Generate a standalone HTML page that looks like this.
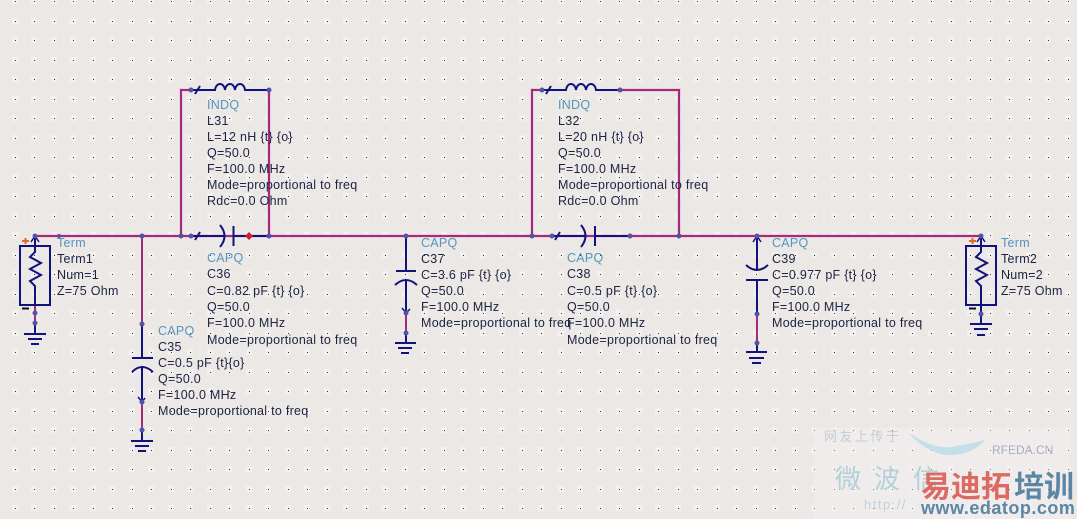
<!DOCTYPE html>
<html><head><meta charset="utf-8"><style>
html,body{margin:0;padding:0;background:#ebe8e6;width:1077px;height:519px;overflow:hidden}
svg{display:block}
text{font-family:"Liberation Sans","Noto Sans CJK SC",sans-serif;font-size:12.5px;letter-spacing:.28px;fill:#1c2342}
.t{fill:#5596bb}
.p{stroke:#a02c7a;stroke-width:2;fill:none}
.h{stroke:#e8b8d4;stroke-width:4;fill:none;opacity:.55}
.b{stroke:#12127c;stroke-width:2;fill:none}
.n{fill:#5252a6}
</style></head><body>
<svg width="1077" height="519" viewBox="0 0 1077 519" xmlns="http://www.w3.org/2000/svg">
<defs>
<pattern id="d" x="15" y="1" width="39" height="39" patternUnits="userSpaceOnUse">
<g fill="#f3f1f0"><rect x="-3" y="-3" width="6" height="6"/><rect x="36" y="-3" width="3" height="6"/><rect x="-3" y="36" width="6" height="3"/><rect x="36" y="36" width="3" height="3"/><rect x="16" y="-3" width="6" height="6"/><rect x="16" y="36" width="6" height="3"/><rect x="-3" y="17" width="6" height="6"/><rect x="36" y="17" width="3" height="6"/><rect x="16" y="17" width="6" height="6"/></g>
<g fill="#333"><rect x="0" y="0" width="1" height="1"/><rect x="19" y="0" width="1" height="1"/><rect x="0" y="20" width="1" height="1"/><rect x="19" y="20" width="1" height="1"/></g>
</pattern>
</defs>
<rect width="1077" height="519" fill="#ebe8e6"/>
<rect width="1077" height="519" fill="url(#d)"/>

<!-- watermark -->
<rect x="814" y="428" width="256" height="91" fill="#f0eeec" opacity=".75"/>
<rect width="1077" height="519" fill="url(#d)" opacity=".5"/>
<path d="M908 432 C925 445 945 450 955 446 C970 444 978 442 985 440 C975 452 960 456 945 455 C930 452 918 444 908 432Z" fill="#c5dfe9"/>
<text x="824" y="441" style="font-size:13px;fill:#c4ced6;letter-spacing:2.5px">网友上传于</text>
<text x="835" y="488" style="font-size:26px;fill:#b4d0db;letter-spacing:13px">微波信</text>
<text x="992" y="454" style="font-size:12px;fill:#a6adc2;letter-spacing:0">RFEDA.CN</text>
<text x="864" y="509" style="font-size:13px;fill:#bdd2dc;letter-spacing:1.5px">http://</text>
<text x="921" y="497" style="font-size:30px;font-weight:bold;fill:#dc6a63;letter-spacing:0">易迪拓</text>
<text x="1014" y="497" style="font-size:30px;font-weight:bold;fill:#5c86a4;letter-spacing:0">培训</text>
<text x="921" y="514" style="font-size:18px;font-weight:bold;fill:#5c86a4;letter-spacing:.5px">www.edatop.com</text>

<!-- pink wires -->
<path class="h" d="M35 236H981M181 236V90H191M269 90V236M532 236V90H542M620 90H679V236"/>
<path class="p" d="M35 236H981M181 236V90H191M269 90V236M532 236V90H542M620 90H679V236"/>
<path class="p" d="M142 236V324M142 402V430M35 305V323M406 313V333M757 314V343M981 305V314"/>

<!-- Term1 -->
<g class="b">
<rect x="20" y="246" width="30" height="59" stroke-width="2"/>
<path d="M35 236V252L30 257L41 263L30 269L41 275L30 281L35 286V305M35 323V333"/>
<path d="M31 242L35 236L39 242" stroke-width="1.5"/>
<path d="M24 334H46M28 339H42M31 344H39" stroke-width="2"/>
</g>
<path d="M22 241H29M25.500 238V244" stroke="#e06a2a" stroke-width="2"/>
<path d="M22 308.500H29" stroke="#111" stroke-width="2"/>

<!-- Term2 -->
<g class="b">
<rect x="966" y="246" width="30" height="59"/>
<path d="M981 236V252L976 257L987 263L976 269L987 275L976 281L981 286V323"/>
<path d="M977 242L981 236L985 242" stroke-width="1.5"/>
<path d="M970 324H992M974 329H988M977 335H985"/>
</g>
<path d="M969 241H976M972.500 238V244" stroke="#e06a2a" stroke-width="2"/>
<path d="M969 308.500H976" stroke="#111" stroke-width="2"/>

<!-- C35 -->
<g class="b">
<path d="M142 324V358M132 358H153M132 372Q142 362 153 372M142 366V402M142 430V441M131 441H153M135 446H149M138 451H146"/>
<path d="M138 397L142 402L145 398" stroke-width="1.500"/>
</g>
<!-- C37 -->
<g class="b">
<path d="M406 236V271M396 271H416M395 285Q406 275 417 285M406 279V313M406 333V343M395 343H416M398 348H412M401 353H409"/>
<path d="M402 308L406 313L410 309" stroke-width="1.500"/>
</g>
<!-- C39 -->
<g class="b">
<path d="M757 236V270M746 265Q757 275 768 265M746 280H768M757 280V314M757 343V352M746 352H767M749 358H764M752 363H761"/>
<path d="M753 242L757 236L761 242" stroke-width="1.500"/>
</g>
<!-- C36 -->
<g class="b">
<path d="M191 236H225M220 225Q229 236 220 247M233.500 226V246M233.500 236H269"/>
<path d="M195 240L200 232" stroke-width="2"/>
</g>
<path d="M249 232L253 236L249 240L245 236Z" fill="#d0202a"/>
<!-- C38 -->
<g class="b">
<path d="M552 236H586M581 225Q590 236 581 247M595 226V246M595 236H630"/>
<path d="M555 240L560 232"/>
</g>
<!-- L31 -->
<g class="b">
<path d="M191 90H215C216 82 224 82 225 90C226 82 234 82 235 90C236 82 244 82 245 90H269"/>
<path d="M195 94L200 86"/>
</g>
<!-- L32 -->
<g class="b">
<path d="M542 90H566C567 82 575 82 576 90C577 82 585 82 586 90C587 82 595 82 596 90H620"/>
<path d="M546 94L551 86"/>
</g>

<!-- nodes -->
<g class="n">
<circle cx="35" cy="236" r="2.500"/><circle cx="35" cy="313" r="2.500"/><circle cx="35" cy="323" r="2.500"/>
<circle cx="59" cy="236" r="2"/>
<circle cx="142" cy="236" r="2.500"/><circle cx="142" cy="324" r="2.500"/><circle cx="142" cy="402" r="2.500"/><circle cx="142" cy="430" r="2.500"/>
<circle cx="181" cy="236" r="2.500"/><circle cx="191" cy="236" r="2.500"/><circle cx="269" cy="236" r="2.500"/>
<circle cx="191" cy="90" r="2.500"/><circle cx="269" cy="90" r="2.500"/>
<circle cx="406" cy="236" r="2.500"/><circle cx="406" cy="313" r="2.500"/><circle cx="406" cy="333" r="2.500"/>
<circle cx="532" cy="236" r="2.500"/><circle cx="552" cy="236" r="2.500"/><circle cx="630" cy="236" r="2.500"/><circle cx="679" cy="236" r="2.500"/>
<circle cx="542" cy="90" r="2.500"/><circle cx="620" cy="90" r="2.500"/>
<circle cx="757" cy="236" r="2.500"/><circle cx="757" cy="314" r="2.500"/><circle cx="757" cy="343" r="2.500"/>
<circle cx="981" cy="236" r="2.500"/><circle cx="981" cy="314" r="2.500"/>
</g>

<!-- labels -->
<text class="t" x="57" y="247">Term</text><text x="57" y="263">Term1</text><text x="57" y="279">Num=1</text><text x="57" y="295">Z=75 Ohm</text>
<text class="t" x="1001" y="247">Term</text><text x="1001" y="263">Term2</text><text x="1001" y="279">Num=2</text><text x="1001" y="295">Z=75 Ohm</text>

<text class="t" x="207" y="109">INDQ</text><text x="207" y="125">L31</text><text x="207" y="141">L=12 nH {t} {o}</text><text x="207" y="157">Q=50.0</text><text x="207" y="173">F=100.0 MHz</text><text x="207" y="189">Mode=proportional to freq</text><text x="207" y="205">Rdc=0.0 Ohm</text>

<text class="t" x="558" y="109">INDQ</text><text x="558" y="125">L32</text><text x="558" y="141">L=20 nH {t} {o}</text><text x="558" y="157">Q=50.0</text><text x="558" y="173">F=100.0 MHz</text><text x="558" y="189">Mode=proportional to freq</text><text x="558" y="205">Rdc=0.0 Ohm</text>

<text class="t" x="207" y="262">CAPQ</text><text x="207" y="278">C36</text><text x="207" y="295">C=0.82 pF {t} {o}</text><text x="207" y="311">Q=50.0</text><text x="207" y="327">F=100.0 MHz</text><text x="207" y="344">Mode=proportional to freq</text>

<text class="t" x="567" y="262">CAPQ</text><text x="567" y="278">C38</text><text x="567" y="295">C=0.5 pF {t} {o}</text><text x="567" y="311">Q=50.0</text><text x="567" y="327">F=100.0 MHz</text><text x="567" y="344">Mode=proportional to freq</text>

<text class="t" x="421" y="247">CAPQ</text><text x="421" y="263">C37</text><text x="421" y="279">C=3.6 pF {t} {o}</text><text x="421" y="295">Q=50.0</text><text x="421" y="311">F=100.0 MHz</text><text x="421" y="327">Mode=proportional to freq</text>

<text class="t" x="772" y="247">CAPQ</text><text x="772" y="263">C39</text><text x="772" y="279">C=0.977 pF {t} {o}</text><text x="772" y="295">Q=50.0</text><text x="772" y="311">F=100.0 MHz</text><text x="772" y="327">Mode=proportional to freq</text>

<text class="t" x="158" y="335">CAPQ</text><text x="158" y="351">C35</text><text x="158" y="367">C=0.5 pF {t}{o}</text><text x="158" y="383">Q=50.0</text><text x="158" y="399">F=100.0 MHz</text><text x="158" y="415">Mode=proportional to freq</text>
</svg>
</body></html>
